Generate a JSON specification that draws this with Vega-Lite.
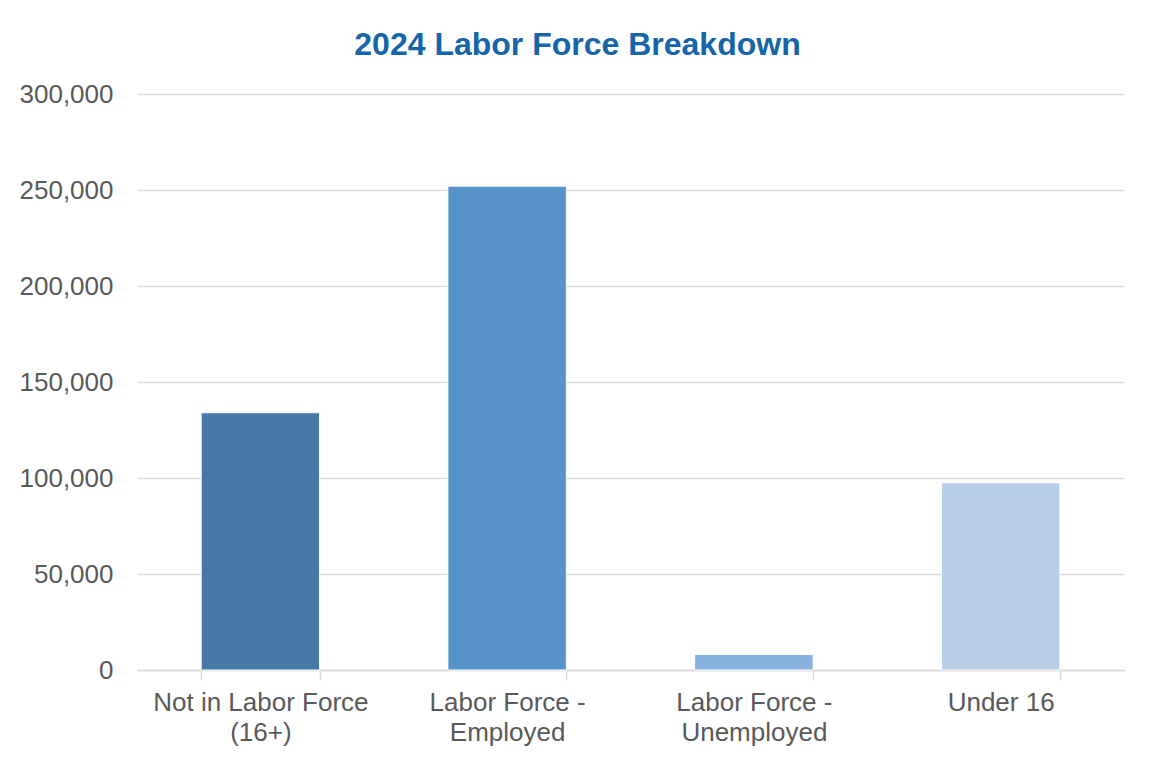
{
  "$schema": "https://vega.github.io/schema/vega-lite/v6.json",
  "width": 987,
  "height": 576,
  "autosize": {"type": "none"},
  "padding": {"left": 137, "top": 94, "right": 28, "bottom": 93},
  "background": "white",
  "title": {
    "text": "2024 Labor Force Breakdown",
    "font": "Liberation Sans",
    "fontSize": 32,
    "fontWeight": "bold",
    "color": "#1565A8",
    "anchor": "middle",
    "frame": "group",
    "offset": 19,
    "dx": -53
  },
  "data": {
    "values": [
      {"category": "Not in Labor Force (16+)", "count": 134000},
      {"category": "Labor Force - Employed", "count": 252000},
      {"category": "Labor Force - Unemployed", "count": 8100},
      {"category": "Under 16", "count": 97500}
    ]
  },
  "mark": {"type": "bar", "stroke": "white", "strokeWidth": 1},
  "encoding": {
    "x": {
      "field": "category",
      "type": "nominal",
      "sort": null,
      "scale": {"paddingInner": 0.52, "paddingOuter": 0.26},
      "axis": {
        "title": null,
        "labelAngle": 0,
        "labelFont": "Liberation Sans",
        "labelFontSize": 26,
        "labelColor": "#595959",
        "labelLineHeight": 30,
        "labelPadding": 9,
        "labelBaseline": "top",
        "labelLimit": 400,
        "domainColor": "#D9D9D9",
        "domainWidth": 1.5,
        "tickColor": "#D9D9D9",
        "tickWidth": 1.5,
        "tickSize": 10,
        "tickBand": "extent",
        "grid": false,
        "labelExpr": "datum.value == 'Not in Labor Force (16+)' ? ['Not in Labor Force', '(16+)'] : datum.value == 'Labor Force - Employed' ? ['Labor Force -', 'Employed'] : datum.value == 'Labor Force - Unemployed' ? ['Labor Force -', 'Unemployed'] : datum.value"
      }
    },
    "y": {
      "field": "count",
      "type": "quantitative",
      "scale": {"domain": [0, 300000], "nice": false},
      "axis": {
        "title": null,
        "values": [0, 50000, 100000, 150000, 200000, 250000, 300000],
        "format": ",d",
        "labelFont": "Liberation Sans",
        "labelFontSize": 26,
        "labelColor": "#595959",
        "labelPadding": 24,
        "labelLimit": 300,
        "ticks": false,
        "domain": false,
        "grid": true,
        "gridColor": "#D9D9D9",
        "gridWidth": 1.5
      }
    },
    "color": {
      "field": "category",
      "type": "nominal",
      "sort": null,
      "scale": {
        "domain": ["Not in Labor Force (16+)", "Labor Force - Employed", "Labor Force - Unemployed", "Under 16"],
        "range": ["#4678A8", "#5593C9", "#86B0DE", "#B8CDE8"]
      },
      "legend": null
    }
  },
  "config": {"view": {"stroke": null}}
}
